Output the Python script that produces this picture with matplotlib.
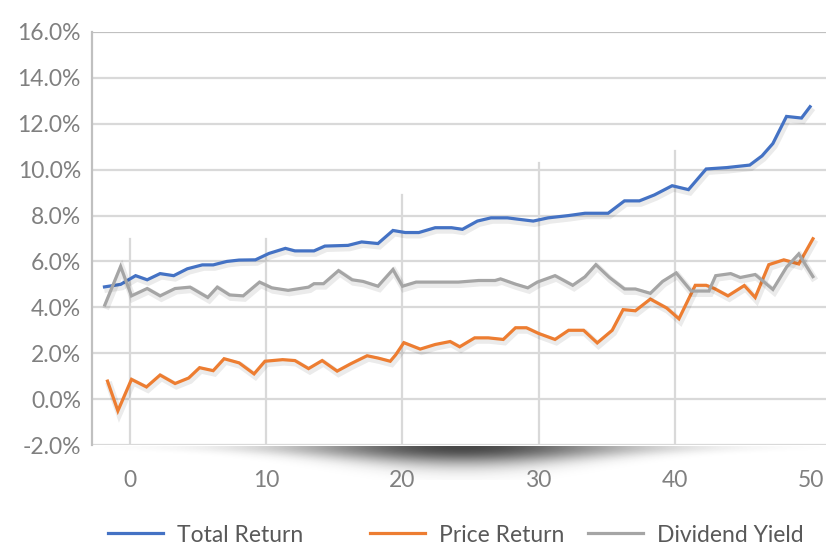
import numpy as np
import matplotlib
matplotlib.use("Agg")
import matplotlib.pyplot as plt
import matplotlib.patheffects as pe
from matplotlib.lines import Line2D

plt.rcParams['font.family'] = ['Lato', 'DejaVu Sans']

# ---- data ----
tr_x = [-2.0, -0.7, 0.4, 1.25, 2.2, 3.2, 4.2, 5.3, 6.1, 7.1, 8.0, 9.2, 10.2, 11.4, 12.1, 13.5,
        14.3, 16.0, 17.0, 18.2, 19.3, 20.2, 21.2, 22.4, 23.6, 24.4, 25.5, 26.5, 27.7, 28.5,
        29.6, 30.7, 32.2, 33.4, 35.1, 36.3, 37.4, 38.5, 39.8, 41.0, 42.3, 43.8, 45.5, 46.4,
        47.2, 48.2, 49.3, 50.0]
tr_y = [4.88, 5.00, 5.38, 5.20, 5.47, 5.38, 5.68, 5.85, 5.85, 6.00, 6.06, 6.07, 6.35, 6.57,
        6.46, 6.46, 6.67, 6.70, 6.85, 6.78, 7.35, 7.26, 7.26, 7.47, 7.47, 7.40, 7.76, 7.90,
        7.90, 7.84, 7.76, 7.90, 8.00, 8.10, 8.10, 8.64, 8.64, 8.90, 9.30, 9.13, 10.03, 10.09,
        10.20, 10.60, 11.14, 12.32, 12.25, 12.80]

pr_x = [-1.7, -0.9, 0.1, 1.2, 2.2, 3.3, 4.3, 5.1, 6.1, 6.9, 8.0, 9.1, 9.9, 11.2, 12.1, 13.1,
        14.1, 15.2, 16.2, 17.4, 18.2, 19.1, 19.5, 20.1, 21.3, 22.4, 23.5, 24.2, 25.3, 26.3,
        27.4, 28.3, 29.1, 30.0, 31.2, 32.2, 33.3, 34.3, 35.4, 36.2, 37.1, 38.2, 39.4, 40.3,
        41.5, 42.3, 42.9, 43.9, 45.1, 45.9, 46.9, 48.0, 49.1, 50.2]
pr_y = [0.85, -0.51, 0.86, 0.53, 1.05, 0.68, 0.92, 1.37, 1.24, 1.76, 1.58, 1.10, 1.65, 1.72,
        1.68, 1.33, 1.68, 1.22, 1.54, 1.89, 1.79, 1.65, 1.93, 2.46, 2.18, 2.38, 2.51, 2.28,
        2.67, 2.67, 2.60, 3.11, 3.11, 2.86, 2.60, 3.00, 3.00, 2.45, 3.00, 3.90, 3.85, 4.36,
        3.97, 3.50, 4.96, 4.96, 4.82, 4.50, 4.95, 4.43, 5.86, 6.07, 5.89, 7.05]

dy_x = [-1.9, -0.7, 0.1, 1.25, 2.2, 3.3, 4.4, 5.7, 6.4, 7.3, 8.3, 9.5, 10.4, 11.6, 13.1, 13.5,
        14.2, 15.3, 16.3, 17.1, 18.2, 19.3, 20.0, 21.0, 24.1, 25.6, 26.8, 27.2, 28.3, 29.2,
        29.9, 31.2, 32.5, 33.4, 34.2, 35.2, 36.3, 37.1, 38.2, 39.1, 40.1, 41.2, 42.5, 43.0,
        44.1, 44.8, 45.9, 47.2, 48.2, 49.1, 50.2]
dy_y = [4.04, 5.78, 4.50, 4.82, 4.50, 4.82, 4.88, 4.43, 4.88, 4.54, 4.50, 5.10, 4.85, 4.74,
        4.88, 5.03, 5.03, 5.60, 5.20, 5.13, 4.92, 5.65, 4.92, 5.10, 5.10, 5.17, 5.17, 5.24,
        5.01, 4.85, 5.10, 5.38, 4.96, 5.33, 5.86, 5.30, 4.80, 4.80, 4.61, 5.13, 5.50, 4.71,
        4.71, 5.38, 5.47, 5.30, 5.43, 4.78, 5.75, 6.33, 5.28]

series_names = ["Total Return", "Price Return", "Dividend Yield"]
series_colors = ["#4472C4", "#ED7D31", "#A5A5A5"]

x_ticks = [0, 10, 20, 30, 40, 50]
y_ticks = [-2, 0, 2, 4, 6, 8, 10, 12, 14, 16]
# partial vertical guide lines (x position, top value)
vline_x = [0, 10, 20, 30, 40]
vline_top = [7.0, 7.0, 8.9, 10.3, 10.8]

# ---- figure ----
W, H = 826, 546
fig = plt.figure(figsize=(W / 100, H / 100), dpi=100)
ax = fig.add_axes([92 / W, 1 - 445 / H, (826 - 92) / W, (445 - 32) / H])

ax.set_xlim(-2.8, 51.1)
ax.set_ylim(-2, 16)

grid_c = "#D9D9D9"
for yv in y_ticks:
    ax.axhline(yv, color=("#C0C0C0" if yv == 16 else grid_c), lw=1.6, zorder=1)
for xv, top in zip(vline_x, vline_top):
    ax.plot([xv, xv], [-2, top], color=grid_c, lw=1.6, zorder=1)

for sp in ["top", "right", "bottom"]:
    ax.spines[sp].set_visible(False)
ax.spines["left"].set_color("#C0C0C0")
ax.spines["left"].set_linewidth(1.6)

ax.set_yticks(y_ticks)
ax.set_yticklabels([f"{v:.1f}%" for v in y_ticks])
ax.set_xticks(x_ticks)
ax.set_xticklabels([str(v) for v in x_ticks])
ax.tick_params(axis="both", length=0, colors="#808080", labelsize=16.5)
ax.tick_params(axis="y", pad=8)
ax.tick_params(axis="x", pad=18)

shadow = [pe.SimpleLineShadow(offset=(1.0, -1.8), shadow_color="#000000", alpha=0.08, linewidth=5),
          pe.Normal()]
for xs, ys, c in zip([tr_x, pr_x, dy_x], [tr_y, pr_y, dy_y], series_colors):
    ax.plot(xs, ys, color=c, lw=2.3, zorder=3, path_effects=shadow,
            solid_joinstyle="miter", solid_capstyle="butt")

# decorative soft shadow under the axis
sax = fig.add_axes([0, 0, 1, 1], zorder=-1)
sax.set_xlim(0, W)
sax.set_ylim(H, 0)
sax.axis("off")
xx = np.linspace(100, 820, 720)
yy = np.linspace(446, 480, 68)
X, Y = np.meshgrid(xx, yy)
xc = 462.0
fx = np.exp(-((X - xc) / 190.0) ** 2)
depth = 4 + 22 * fx
fy = np.exp(-((Y - 447.0) / depth) ** 2 * 2.2)
a = 0.82 * fx ** 1.3 * fy
img = np.zeros((len(yy), len(xx), 4))
img[..., 0:3] = 0.12
img[..., 3] = a
sax.imshow(img, extent=(100, 820, 480, 446), aspect="auto", interpolation="bilinear")

# legend
lx = [118, 380, 598]
for name, c, x0 in zip(series_names, series_colors, lx):
    h = [Line2D([], [], color=c, lw=2.3)]
    fig.legend(h, [name], loc="center left", bbox_to_anchor=(x0 / W - 0.012, 1 - 535 / H),
               frameon=False, fontsize=16.5, labelcolor="#595959",
               handlelength=2.4, handletextpad=0.6, borderaxespad=0, borderpad=0)

fig.savefig("out.png", dpi=100)
